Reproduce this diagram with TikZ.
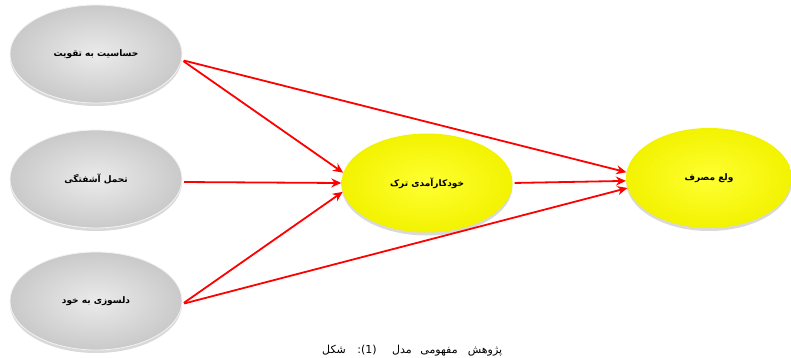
\documentclass[tikz,border=0pt]{standalone}
\usepackage{fontspec}
\newfontfamily\arabicfont[Script=Arabic]{DejaVu Sans}
\TeXXeTstate=1
\usetikzlibrary{shapes.geometric,arrows.meta,shadows}
\begin{document}
\begin{tikzpicture}[x=1pt,y=-1pt,
  basenode/.style={ellipse, inner sep=0pt, shading=radial,
    drop shadow={shadow xshift=0pt, shadow yshift=-3pt, opacity=0.3, fill=gray},
    font=\arabicfont\bfseries\fontsize{9}{11}\selectfont},
  greynode/.style={basenode, minimum width=172pt, minimum height=98pt,
    inner color=gray!16, outer color=gray!42, draw=gray!10, line width=0.8pt},
  yellownode/.style={basenode, minimum width=171pt, minimum height=99pt,
    inner color=yellow!80!white, outer color=yellow!95!black},
  link/.style={draw=red, line width=1.8pt, -{Stealth[length=10pt,width=9pt]}, shorten <=2pt},
  capword/.style={anchor=base, inner sep=0pt, font=\arabicfont\fontsize{11}{13}\selectfont}
]
\useasboundingbox (0,0) rectangle (791,358);
\clip (0,0) rectangle (791,358);

\node[greynode] (a) at (96,54) {\beginR حساسیت به تقویت\endR};
\node[greynode] (b) at (96,179) {\beginR تحمل آشفتگی\endR};
\node[greynode] (c) at (96,301) {\beginR دلسوزی به خود\endR};
\node[yellownode] (m) at (427,183) {\beginR خودکارآمدی ترک\endR};
\node[yellownode, minimum width=166pt, minimum height=100pt] (r) at (709,178) {\beginR ولع مصرف\endR};

\draw[link] (a.-4.5) -- (m.173);
\draw[link] (a.-4.5) -- (r.176);
\draw[link] (b.-2.6) -- (m.180);
\draw[link] (c.-2.6) -- (m.186.3);
\draw[link] (c.-2.6) -- (r.187.4);
\draw[link] (m.0) -- (r.182);

\node[capword] (cap1) at (334,353) {\beginR شکل\endR};
\node[capword] (cap2) at (367,353) {(1):};
\node[capword] (cap3) at (402,353) {\beginR مدل\endR};
\node[capword] (cap4) at (439,353) {\beginR مفهومی\endR};
\node[capword] (cap5) at (485,353) {\beginR پژوهش\endR};
\end{tikzpicture}
\end{document}
